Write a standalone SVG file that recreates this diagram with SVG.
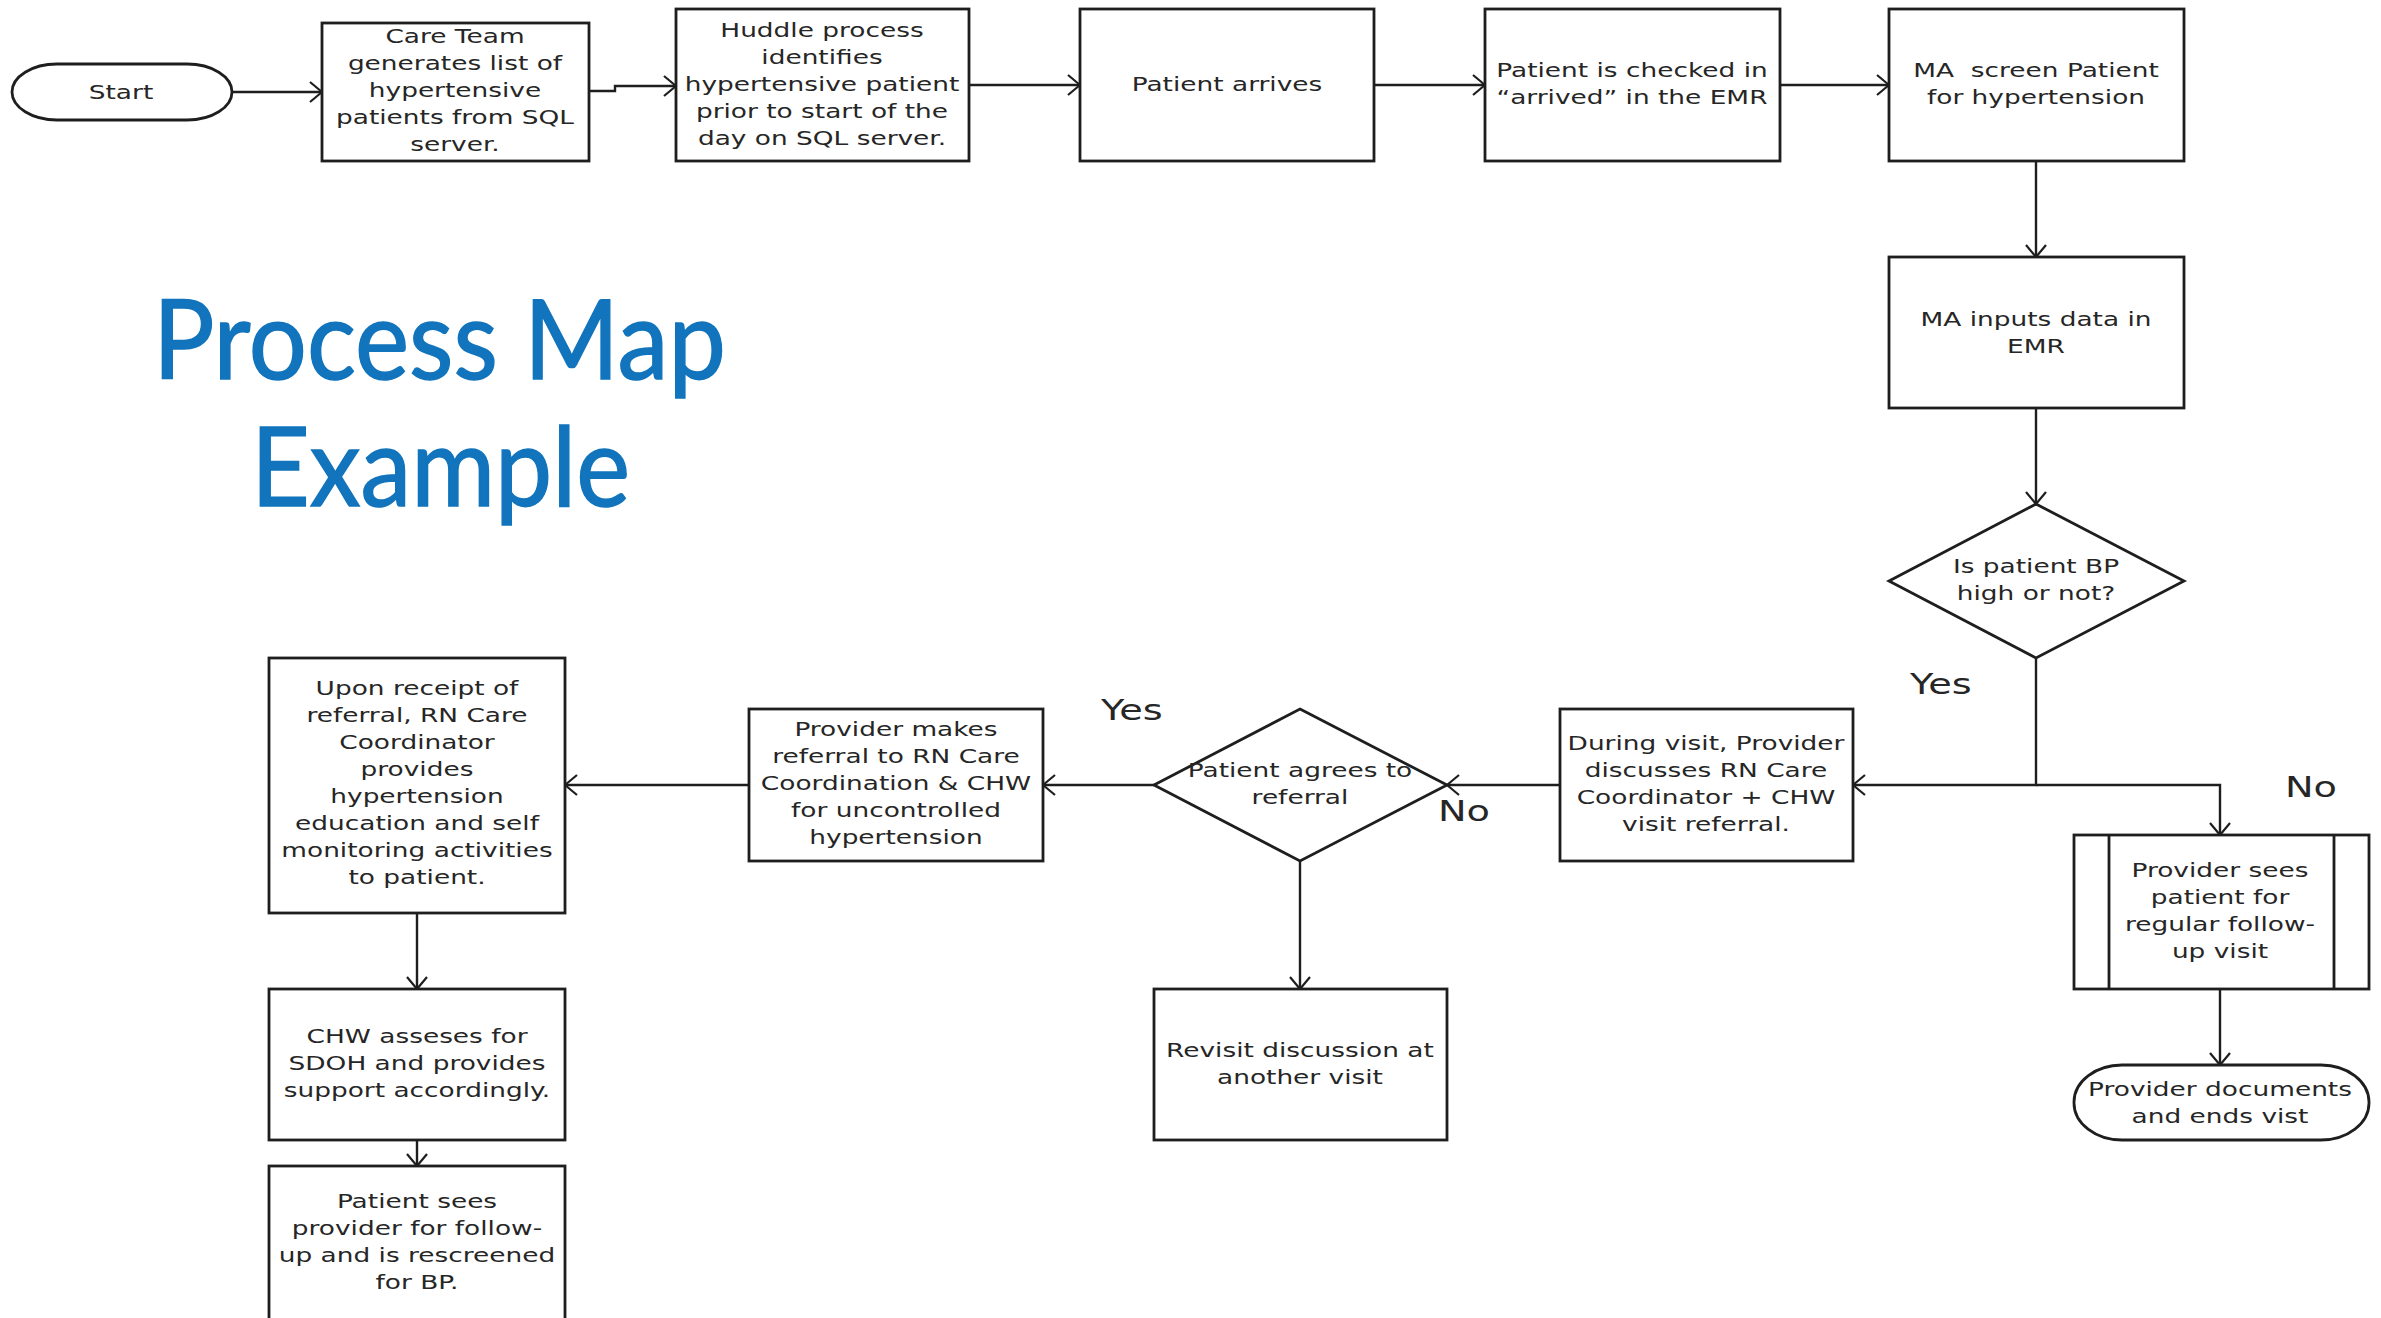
<svg xmlns="http://www.w3.org/2000/svg" width="2381" height="1318" viewBox="0 0 2381 1318">
<style>
.box{fill:#fff;stroke:#1e1e1e;stroke-width:2.8}
.t{font-family:"DejaVu Sans",Verdana,sans-serif;font-size:20px;fill:#262626;text-anchor:middle}
.lbl{font-family:"DejaVu Sans",Verdana,sans-serif;font-size:29px;fill:#262626}
.title{font-family:Lato,"Open Sans",sans-serif;font-size:110px;fill:#1174bc}
.c{fill:none;stroke:#1e1e1e;stroke-width:2.4;marker-end:url(#arr)}
</style>
<defs>
<marker id="arr" viewBox="0 0 14 22" refX="13" refY="11" markerWidth="14" markerHeight="22" markerUnits="userSpaceOnUse" orient="auto">
<path d="M1,1 L13,11 L1,21" fill="none" stroke="#1e1e1e" stroke-width="2.2"/>
</marker>
</defs>
<rect width="2381" height="1318" fill="#fff"/>

<g id="title">
<text class="title" x="153" y="379" textLength="573" lengthAdjust="spacingAndGlyphs" stroke="#1174bc" stroke-width="1.5">Process Map</text>
<text class="title" x="251" y="506" textLength="379" lengthAdjust="spacingAndGlyphs" stroke="#1174bc" stroke-width="1.5">Example</text>
</g>

<g id="connectors">
<path class="c" d="M232,92 H322"/>
<path class="c" d="M589,91 H615 V86 H676"/>
<path class="c" d="M969,85 H1080"/>
<path class="c" d="M1374,85 H1485"/>
<path class="c" d="M1780,85 H1889"/>
<path class="c" d="M2036,161 V257"/>
<path class="c" d="M2036,408 V504"/>
<path class="c" d="M2036,658 V785 H1853"/>
<path class="c" d="M2036,785 H2220 V835"/>
<path class="c" d="M1560,785 H1447"/>
<path class="c" d="M1154,785 H1043"/>
<path class="c" d="M1300,861 V989"/>
<path class="c" d="M749,785 H565"/>
<path class="c" d="M417,913 V989"/>
<path class="c" d="M417,1140 V1166"/>
<path class="c" d="M2220,989 V1065"/>
</g>

<g id="start">
<rect class="box" x="12" y="64" width="220" height="56" rx="45" ry="28"/>
<g transform="translate(121 0) scale(1.32 1)"><text class="t"><tspan x="0" y="99">Start</tspan></text></g>
</g>

<g id="care-team">
<rect class="box" x="322" y="23" width="267" height="138"/>
<g transform="translate(455 0) scale(1.32 1)"><text class="t">
<tspan x="0" y="43">Care Team</tspan><tspan x="0" y="70">generates list of</tspan><tspan x="0" y="97">hypertensive</tspan><tspan x="0" y="124">patients from SQL</tspan><tspan x="0" y="151">server.</tspan></text></g>
</g>

<g id="huddle">
<rect class="box" x="676" y="9" width="293" height="152"/>
<g transform="translate(822 0) scale(1.32 1)"><text class="t">
<tspan x="0" y="37">Huddle process</tspan><tspan x="0" y="64">identifies</tspan><tspan x="0" y="91">hypertensive patient</tspan><tspan x="0" y="118">prior to start of the</tspan><tspan x="0" y="145">day on SQL server.</tspan></text></g>
</g>

<g id="arrives">
<rect class="box" x="1080" y="9" width="294" height="152"/>
<g transform="translate(1227 0) scale(1.32 1)"><text class="t"><tspan x="0" y="91">Patient arrives</tspan></text></g>
</g>

<g id="checked-in">
<rect class="box" x="1485" y="9" width="295" height="152"/>
<g transform="translate(1632 0) scale(1.32 1)"><text class="t">
<tspan x="0" y="77">Patient is checked in</tspan><tspan x="0" y="104">“arrived” in the EMR</tspan></text></g>
</g>

<g id="ma-screen">
<rect class="box" x="1889" y="9" width="295" height="152"/>
<g transform="translate(2036 0) scale(1.32 1)"><text class="t" xml:space="preserve">
<tspan x="0" y="77">MA  screen Patient</tspan><tspan x="0" y="104">for hypertension</tspan></text></g>
</g>

<g id="ma-inputs">
<rect class="box" x="1889" y="257" width="295" height="151"/>
<g transform="translate(2036 0) scale(1.32 1)"><text class="t">
<tspan x="0" y="326">MA inputs data in</tspan><tspan x="0" y="353">EMR</tspan></text></g>
</g>

<g id="bp-decision">
<polygon class="box" points="2036,504 2184,581 2036,658 1889,581"/>
<g transform="translate(2036 0) scale(1.32 1)"><text class="t">
<tspan x="0" y="573">Is patient BP</tspan><tspan x="0" y="600">high or not?</tspan></text></g>
</g>

<g id="during-visit">
<rect class="box" x="1560" y="709" width="293" height="152"/>
<g transform="translate(1706 0) scale(1.32 1)"><text class="t">
<tspan x="0" y="750">During visit, Provider</tspan><tspan x="0" y="777">discusses RN Care</tspan><tspan x="0" y="804">Coordinator + CHW</tspan><tspan x="0" y="831">visit referral.</tspan></text></g>
</g>

<g id="provider-sees">
<rect class="box" x="2074" y="835" width="295" height="154"/>
<line x1="2109" y1="835" x2="2109" y2="989" stroke="#1e1e1e" stroke-width="2.8"/>
<line x1="2334" y1="835" x2="2334" y2="989" stroke="#1e1e1e" stroke-width="2.8"/>
<g transform="translate(2220 0) scale(1.32 1)"><text class="t">
<tspan x="0" y="877">Provider sees</tspan><tspan x="0" y="904">patient for</tspan><tspan x="0" y="931">regular follow-</tspan><tspan x="0" y="958">up visit</tspan></text></g>
</g>

<g id="provider-documents">
<rect class="box" x="2074" y="1065" width="295" height="75" rx="48" ry="37"/>
<g transform="translate(2220 0) scale(1.32 1)"><text class="t">
<tspan x="0" y="1096">Provider documents</tspan><tspan x="0" y="1123">and ends vist</tspan></text></g>
</g>

<g id="agrees-decision">
<polygon class="box" points="1300,709 1447,785 1300,861 1154,785"/>
<g transform="translate(1300 0) scale(1.32 1)"><text class="t">
<tspan x="0" y="777">Patient agrees to</tspan><tspan x="0" y="804">referral</tspan></text></g>
</g>

<g id="revisit">
<rect class="box" x="1154" y="989" width="293" height="151"/>
<g transform="translate(1300 0) scale(1.32 1)"><text class="t">
<tspan x="0" y="1057">Revisit discussion at</tspan><tspan x="0" y="1084">another visit</tspan></text></g>
</g>

<g id="makes-referral">
<rect class="box" x="749" y="709" width="294" height="152"/>
<g transform="translate(896 0) scale(1.32 1)"><text class="t">
<tspan x="0" y="736">Provider makes</tspan><tspan x="0" y="763">referral to RN Care</tspan><tspan x="0" y="790">Coordination &amp; CHW</tspan><tspan x="0" y="817">for uncontrolled</tspan><tspan x="0" y="844">hypertension</tspan></text></g>
</g>

<g id="upon-receipt">
<rect class="box" x="269" y="658" width="296" height="255"/>
<g transform="translate(417 0) scale(1.32 1)"><text class="t">
<tspan x="0" y="695">Upon receipt of</tspan><tspan x="0" y="722">referral, RN Care</tspan><tspan x="0" y="749">Coordinator</tspan><tspan x="0" y="776">provides</tspan><tspan x="0" y="803">hypertension</tspan><tspan x="0" y="830">education and self</tspan><tspan x="0" y="857">monitoring activities</tspan><tspan x="0" y="884">to patient.</tspan></text></g>
</g>

<g id="chw">
<rect class="box" x="269" y="989" width="296" height="151"/>
<g transform="translate(417 0) scale(1.32 1)"><text class="t">
<tspan x="0" y="1043">CHW asseses for</tspan><tspan x="0" y="1070">SDOH and provides</tspan><tspan x="0" y="1097">support accordingly.</tspan></text></g>
</g>

<g id="patient-sees">
<rect class="box" x="269" y="1166" width="296" height="170"/>
<g transform="translate(417 0) scale(1.32 1)"><text class="t">
<tspan x="0" y="1208">Patient sees</tspan><tspan x="0" y="1235">provider for follow-</tspan><tspan x="0" y="1262">up and is rescreened</tspan><tspan x="0" y="1289">for BP.</tspan></text></g>
</g>

<g id="labels">
<g transform="translate(1910 694) scale(1.32 1)"><text class="lbl" x="0" y="0">Yes</text></g>
<g transform="translate(2285 797) scale(1.32 1)"><text class="lbl" x="0" y="0">No</text></g>
<g transform="translate(1101 720) scale(1.32 1)"><text class="lbl" x="0" y="0">Yes</text></g>
<g transform="translate(1438 821) scale(1.32 1)"><text class="lbl" x="0" y="0">No</text></g>
</g>
</svg>
